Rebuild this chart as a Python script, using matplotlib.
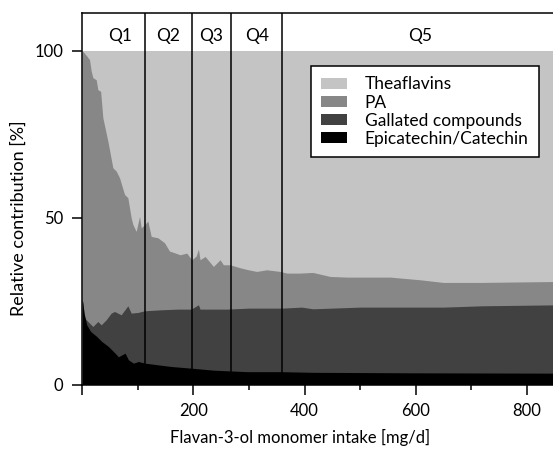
import matplotlib
matplotlib.use("Agg")
import matplotlib.pyplot as plt
from matplotlib.patches import Patch
from matplotlib.ticker import FixedLocator

plt.rcParams['font.family'] = ['Lato', 'DejaVu Sans']

# ---- data (cumulative upper boundaries, %) ----
series_names = ["Theaflavins", "PA", "Gallated compounds", "Epicatechin/Catechin"]
series_colors = ["#c4c4c4", "#878787", "#414141", "#000000"]

# upper edge of PA band (PA + Gallated + Epicatechin/Catechin)
pa_x = [0, 3, 8, 13, 16, 19, 25, 28, 33, 37, 46, 55, 61, 67, 76, 82, 88, 91, 97,
        103, 106, 112, 118, 124, 136, 148, 157, 166, 176, 188, 197, 205, 209, 212,
        221, 236, 248, 254, 266, 284, 299, 314, 332, 356, 368, 392, 415, 446, 476,
        554, 608, 650, 716, 860]
pa_top = [100, 99.5, 98.5, 97.4, 94, 92, 91.4, 88.4, 87.9, 80, 73, 65, 64, 62, 57, 56,
          50, 48, 45.9, 50.4, 47, 47.9, 49, 44.4, 44, 42.5, 40, 39.5, 38.9, 39.4, 37.4,
          38.5, 40.6, 37.4, 38.4, 35.4, 37.4, 35.9, 35.9, 35, 34.4, 33.9, 34.4, 33.9,
          33.4, 33.4, 33.6, 32.4, 32.2, 32.2, 31.4, 30.6, 30.6, 30.9]

# upper edge of Gallated band (Gallated + Epicatechin/Catechin)
gal_x = [0, 3, 5, 10, 19, 28, 34, 43, 52, 58, 70, 82, 88, 100, 112, 142, 172, 196,
         209, 212, 260, 300, 360, 395, 415, 500, 650, 720, 860]
gal_top = [25.5, 22.0, 19.8, 18.9, 17.4, 18.9, 17.9, 19.4, 21.4, 21.9, 20.9, 23.6,
           21.4, 21.6, 22.1, 22.4, 22.6, 22.6, 23.9, 22.6, 22.6, 22.9, 22.9, 23.2,
           22.7, 23.2, 23.2, 23.6, 23.9]

# upper edge of Epicatechin/Catechin band
epi_x = [0, 1, 3, 8, 15, 26, 35, 47, 59, 65, 77, 83, 92, 101, 113, 136, 160, 196,
         236, 296, 356, 415, 600, 860]
epi_top = [25.5, 24.4, 21.4, 17.9, 15.9, 14.4, 12.9, 11.4, 9.4, 8.3, 9.4, 7.4, 6.4,
           6.9, 6.4, 5.9, 5.4, 4.9, 4.3, 3.85, 3.85, 3.65, 3.5, 3.4]

quintile_bounds = [113.5, 196.6, 268.3, 360]
quintile_labels = ["Q1", "Q2", "Q3", "Q4", "Q5"]
quintile_label_x = [68, 155, 232, 314, 609]

x_major = [0, 200, 400, 600, 800]
x_major_labels = ["", "200", "400", "600", "800"]
x_minor = [100, 300, 500, 700]
y_ticks = [0, 50, 100]

# ---- figure ----
W, H = 553, 451
fig = plt.figure(figsize=(W / 100, H / 100), dpi=100)
ax_left, ax_bottom, ax_top = 82.3, 384.5, 13.4
px_per_unit = 0.5555
x_max = 860
ax_right = ax_left + x_max * px_per_unit
ax = fig.add_axes([ax_left / W, 1 - ax_bottom / H, (ax_right - ax_left) / W,
                   (ax_bottom - ax_top) / H])
y_top = 100 + (51.0 - ax_top) / 3.335
ax.set_xlim(0, x_max)
ax.set_ylim(0, y_top)

ax.fill_between([0, x_max], 0, 100, color=series_colors[0], lw=0)
ax.fill_between(pa_x, 0, pa_top, color=series_colors[1], lw=0)
ax.fill_between(gal_x, 0, gal_top, color=series_colors[2], lw=0)
ax.fill_between(epi_x, 0, epi_top, color=series_colors[3], lw=0)

for b in quintile_bounds:
    ax.plot([b, b], [0, y_top], color="black", lw=1.1)
for lab, lx in zip(quintile_labels, quintile_label_x):
    ax.text(lx, 104.4, lab, ha="center", va="center", fontsize=12.5)

ax.spines["right"].set_visible(False)
for s in ["left", "top", "bottom"]:
    ax.spines[s].set_linewidth(1.1)

ax.xaxis.set_major_locator(FixedLocator(x_major))
ax.set_xticklabels(x_major_labels)
ax.xaxis.set_minor_locator(FixedLocator(x_minor))
ax.set_yticks(y_ticks)
ax.tick_params(axis="both", which="major", length=7.5, width=1.1, labelsize=12, pad=6)
ax.tick_params(axis="x", which="minor", length=3.8, width=1.1)

fig.text(300.5 / W, 1 - 437 / H, "Flavan-3-ol monomer intake [mg/d]",
         ha="center", va="center", fontsize=12)
fig.text(18.5 / W, 1 - 218.5 / H, "Relative contribution [%]", rotation=90,
         ha="center", va="center", fontsize=13)

handles = [Patch(facecolor=c, edgecolor="none") for c in series_colors]
leg = ax.legend(handles, series_names, loc="upper left",
                bbox_to_anchor=(311 / W, 1 - 66 / H), bbox_transform=fig.transFigure,
                borderaxespad=0, fancybox=False, framealpha=1, edgecolor="black",
                fontsize=12.5, handlelength=1.5, handleheight=0.58,
                handletextpad=1.0, labelspacing=0.12, borderpad=0.6)
leg.get_frame().set_linewidth(1.1)

fig.savefig("out.png", dpi=100)
